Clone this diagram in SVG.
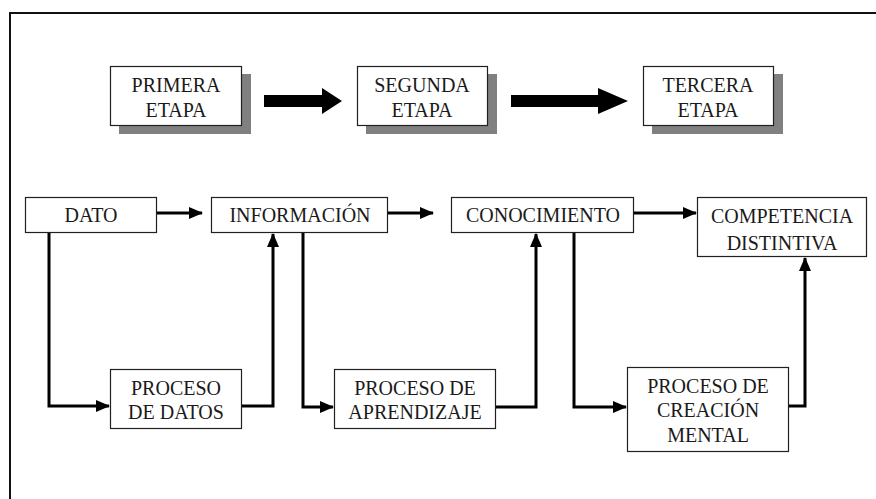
<svg xmlns="http://www.w3.org/2000/svg" width="876" height="499" viewBox="0 0 876 499">
  <defs>
    <style>
      .box { fill: #ffffff; stroke: #202020; stroke-width: 1.2; }
      .shadow { fill: #808080; }
      text { font-family: 'Liberation Serif', 'Times New Roman', 'DejaVu Serif', serif; font-size: 20px; fill: #1a1a1a; text-anchor: middle; }
      .wire { fill: none; stroke: #000000; stroke-width: 3; stroke-linejoin: miter; }
      .fat { fill: #000000; }
    </style>
    <marker id="head" viewBox="0 0 14 12" refX="13" refY="6" markerWidth="14" markerHeight="12" markerUnits="userSpaceOnUse" orient="auto">
      <path d="M0,0 L14,6 L0,12 Z" fill="#000000"/>
    </marker>
  </defs>

  <rect width="876" height="499" fill="#ffffff"/>

  <!-- outer frame (left and top edges) -->
  <path d="M10,499 V13 H876" fill="none" stroke="#111111" stroke-width="2"/>

  <!-- stage row -->
  <g id="primera-etapa">
    <rect class="shadow" x="119" y="74" width="132" height="60"/>
    <rect class="box" x="110.5" y="66.5" width="131" height="59"/>
    <text x="176" y="92" font-family="Liberation Serif, serif">PRIMERA</text>
    <text x="176" y="117" font-family="Liberation Serif, serif">ETAPA</text>
  </g>
  <g id="segunda-etapa">
    <rect class="shadow" x="366" y="74" width="131" height="60"/>
    <rect class="box" x="357.5" y="66.5" width="130" height="59"/>
    <text x="422" y="92">SEGUNDA</text>
    <text x="422" y="117">ETAPA</text>
  </g>
  <g id="tercera-etapa">
    <rect class="shadow" x="652" y="74" width="131" height="60"/>
    <rect class="box" x="643.5" y="66.5" width="130" height="59"/>
    <text x="708" y="92">TERCERA</text>
    <text x="708" y="117">ETAPA</text>
  </g>

  <!-- concept row -->
  <g id="dato">
    <rect class="box" x="25.5" y="197.5" width="131" height="35"/>
    <text x="91" y="222">DATO</text>
  </g>
  <g id="informacion">
    <rect class="box" x="211.5" y="197.5" width="176" height="35"/>
    <text x="300" y="222">INFORMACIÓN</text>
  </g>
  <g id="conocimiento">
    <rect class="box" x="451.5" y="197.5" width="182" height="35"/>
    <text x="543" y="222">CONOCIMIENTO</text>
  </g>
  <g id="competencia-distintiva">
    <rect class="box" x="697.5" y="197.5" width="169" height="59"/>
    <text x="782" y="223">COMPETENCIA</text>
    <text x="782" y="250">DISTINTIVA</text>
  </g>

  <!-- process row -->
  <g id="proceso-datos">
    <rect class="box" x="110.5" y="369.5" width="131" height="59"/>
    <text x="176" y="395">PROCESO</text>
    <text x="176" y="419">DE DATOS</text>
  </g>
  <g id="proceso-aprendizaje">
    <rect class="box" x="334.5" y="369.5" width="161" height="59"/>
    <text x="415" y="395">PROCESO DE</text>
    <text x="415" y="419">APRENDIZAJE</text>
  </g>
  <g id="proceso-creacion">
    <rect class="box" x="627.5" y="367.5" width="161" height="84"/>
    <text x="708" y="393">PROCESO DE</text>
    <text x="708" y="417">CREACIÓN</text>
    <text x="708" y="442">MENTAL</text>
  </g>

  <g id="connectors">
    <!-- block arrows between stages -->
    <path class="fat" d="M264,95 H322 V88 L342,101 L322,114 V107 H264 Z"/>
    <path class="fat" d="M511,95 H598 V88 L628,101 L598,114 V107 H511 Z"/>

    <!-- concept chain -->
    <path class="wire" d="M157,213 H202" marker-end="url(#head)"/>
    <path class="wire" d="M388,213 H433" marker-end="url(#head)"/>
    <path class="wire" d="M634,213 H696" marker-end="url(#head)"/>

    <!-- loops through the processes -->
    <path class="wire" d="M49,233 V406 H109" marker-end="url(#head)"/>
    <path class="wire" d="M242,406 H273 V234" marker-end="url(#head)"/>
    <path class="wire" d="M303,233 V407 H333" marker-end="url(#head)"/>
    <path class="wire" d="M496,407 H536 V234" marker-end="url(#head)"/>
    <path class="wire" d="M574,233 V407 H626" marker-end="url(#head)"/>
    <path class="wire" d="M789,406 H805 V258" marker-end="url(#head)"/>
  </g>
</svg>
